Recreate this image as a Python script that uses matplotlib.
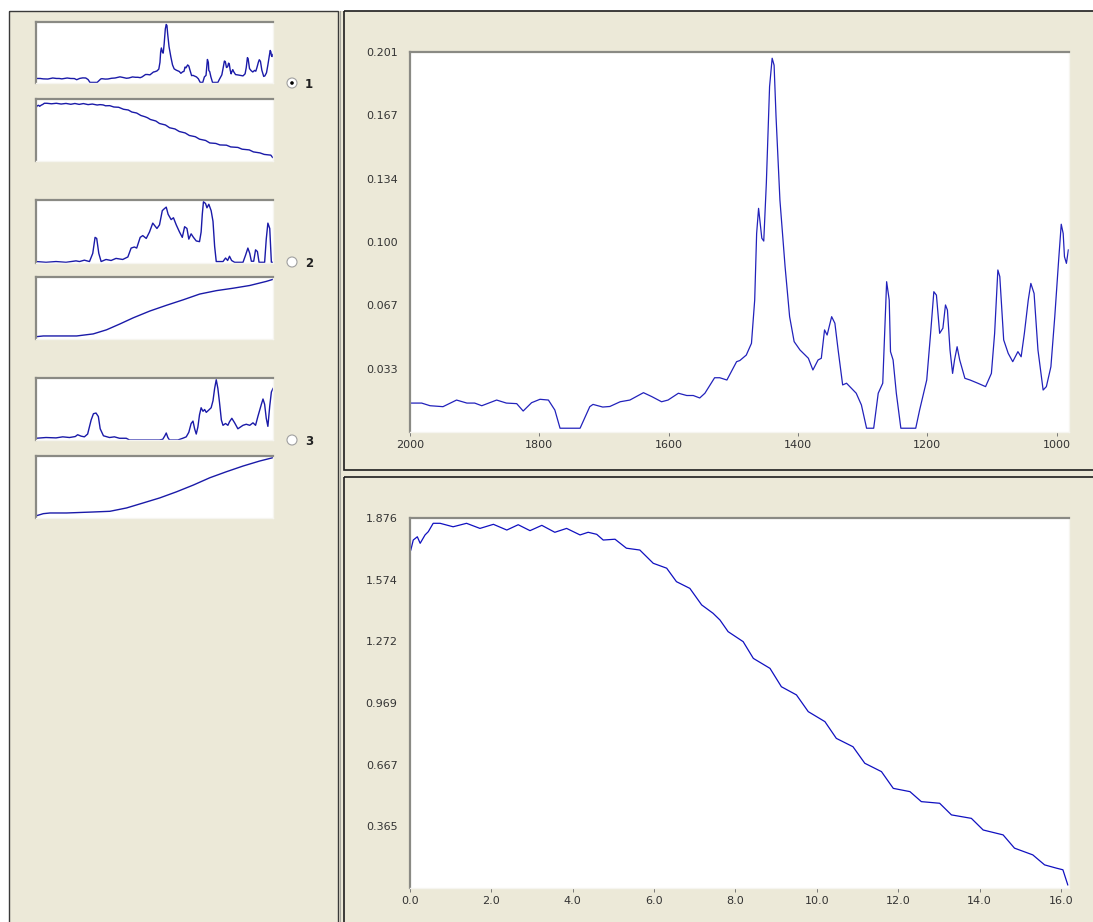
import matplotlib
matplotlib.use("Agg")
import matplotlib.pyplot as plt
from matplotlib.patches import Rectangle, Circle

# --- spectrum of component 1 (wavenumber, absorbance) ---
spec_wn = [2000, 1982, 1969, 1949, 1928, 1912, 1900, 1889, 1866, 1851, 1835, 1825,
           1812, 1799, 1786, 1776, 1768, 1737, 1722, 1717, 1702, 1691, 1675, 1660,
           1639, 1626, 1611, 1601, 1585, 1572, 1562, 1552, 1544, 1529, 1521, 1510,
           1495, 1490, 1480, 1472, 1467, 1464, 1461, 1456, 1453, 1449, 1444, 1440,
           1437, 1434, 1428, 1420, 1413, 1406, 1397, 1384, 1377, 1369, 1364, 1359,
           1355, 1348, 1343, 1338, 1331, 1325, 1310, 1302, 1294, 1283, 1276, 1269,
           1263, 1259, 1257, 1253, 1248, 1241, 1218, 1212, 1201, 1195, 1190, 1186,
           1181, 1176, 1172, 1169, 1165, 1161, 1158, 1154, 1150, 1142, 1134, 1122,
           1110, 1101, 1096, 1091, 1088, 1082, 1075, 1068, 1060, 1055, 1050, 1044,
           1040, 1035, 1029, 1021, 1016, 1009, 1003, 997, 993, 990, 988, 985, 982]
spec_abs = [0.0153, 0.0153, 0.0139, 0.0134, 0.0169, 0.0153, 0.0153, 0.0139, 0.0169,
            0.0153, 0.0150, 0.0111, 0.0155, 0.0173, 0.0169, 0.0116, 0.0020, 0.0020,
            0.0134, 0.0146, 0.0132, 0.0135, 0.0160, 0.0169, 0.0208, 0.0187, 0.0160,
            0.0169, 0.0205, 0.0193, 0.0193, 0.0180, 0.0205, 0.0287, 0.0287, 0.0275,
            0.0372, 0.0378, 0.0407, 0.0469, 0.0698, 0.1050, 0.1183, 0.1025, 0.1010,
            0.1316, 0.1827, 0.1977, 0.1940, 0.1668, 0.1227, 0.0874, 0.0610, 0.0478,
            0.0434, 0.0390, 0.0328, 0.0381, 0.0390, 0.0540, 0.0513, 0.0610, 0.0575,
            0.0434, 0.0249, 0.0258, 0.0205, 0.0143, 0.0020, 0.0020, 0.0205, 0.0258,
            0.0795, 0.0698, 0.0425, 0.0381, 0.0205, 0.0020, 0.0020, 0.0116, 0.0275,
            0.0522, 0.0742, 0.0724, 0.0522, 0.0549, 0.0672, 0.0645, 0.0434, 0.0310,
            0.0381, 0.0451, 0.0381, 0.0284, 0.0275, 0.0258, 0.0240, 0.0310, 0.0522,
            0.0857, 0.0822, 0.0487, 0.0416, 0.0372, 0.0425, 0.0398, 0.0522, 0.0698,
            0.0786, 0.0733, 0.0434, 0.0222, 0.0240, 0.0345, 0.0610, 0.0910, 0.1099,
            0.1050, 0.0927, 0.0892, 0.0963]

# --- concentration profile of component 1 ---
time = [0.02, 0.08, 0.18, 0.25, 0.37, 0.45, 0.57, 0.74, 1.06, 1.39, 1.72, 2.05,
        2.38, 2.66, 2.95, 3.24, 3.56, 3.85, 4.18, 4.38, 4.59, 4.75, 5.04, 5.32,
        5.65, 5.98, 6.31, 6.55, 6.88, 7.17, 7.45, 7.62, 7.82, 8.19, 8.44, 8.85,
        9.13, 9.50, 9.79, 10.20, 10.48, 10.89, 11.18, 11.59, 11.88, 12.29, 12.57,
        13.02, 13.31, 13.80, 14.09, 14.58, 14.86, 15.31, 15.60, 15.89, 16.05, 16.17]
conc = [1.719, 1.768, 1.784, 1.752, 1.793, 1.809, 1.850, 1.850, 1.833, 1.850,
        1.825, 1.845, 1.817, 1.843, 1.814, 1.840, 1.806, 1.825, 1.793, 1.806,
        1.796, 1.768, 1.772, 1.728, 1.719, 1.654, 1.630, 1.564, 1.531, 1.450,
        1.409, 1.376, 1.319, 1.270, 1.188, 1.139, 1.049, 1.009, 0.927, 0.878,
        0.796, 0.755, 0.674, 0.633, 0.551, 0.535, 0.486, 0.478, 0.421, 0.404,
        0.347, 0.323, 0.258, 0.225, 0.176, 0.160, 0.152, 0.078]

# --- thumbnails of components 2 and 3 (relative heights) ---
spec2_wn = [2000, 1957, 1914, 1871, 1828, 1813, 1792, 1770, 1756, 1746, 1739, 1730,
            1720, 1699, 1677, 1656, 1627, 1605, 1591, 1577, 1567, 1552, 1541, 1526,
            1512, 1498, 1480, 1469, 1457, 1449, 1440, 1432, 1419, 1409, 1397, 1383,
            1371, 1361, 1351, 1343, 1333, 1323, 1311, 1297, 1290, 1285, 1280, 1271,
            1265, 1257, 1247, 1239, 1232, 1225, 1196, 1185, 1176, 1168, 1159, 1146,
            1110, 1099, 1089, 1081, 1074, 1064, 1056, 1048, 1041, 1017, 1010, 1003,
            995, 988, 981]
spec2_rel = [0.023, 0.011, 0.023, 0.011, 0.034, 0.023, 0.045, 0.023, 0.153, 0.407,
             0.390, 0.153, 0.023, 0.056, 0.040, 0.073, 0.056, 0.096, 0.237, 0.254,
             0.237, 0.407, 0.435, 0.390, 0.492, 0.633, 0.548, 0.605, 0.831, 0.859,
             0.887, 0.774, 0.689, 0.718, 0.605, 0.492, 0.407, 0.576, 0.548, 0.379,
             0.463, 0.407, 0.350, 0.339, 0.492, 0.774, 0.972, 0.944, 0.876, 0.932,
             0.831, 0.661, 0.266, 0.023, 0.023, 0.079, 0.040, 0.107, 0.040, 0.011,
             0.011, 0.124, 0.237, 0.153, 0.028, 0.028, 0.209, 0.181, 0.011, 0.011,
             0.379, 0.633, 0.548, 0.011, 0.011]
spec3_wn = [2000, 1957, 1914, 1885, 1856, 1831, 1821, 1806, 1792, 1778, 1763, 1753,
            1742, 1732, 1724, 1710, 1684, 1663, 1641, 1612, 1598, 1469, 1455, 1446,
            1440, 1433, 1426, 1390, 1369, 1354, 1343, 1333, 1325, 1318, 1311, 1304,
            1297, 1290, 1282, 1275, 1268, 1258, 1247, 1239, 1232, 1225, 1218, 1211,
            1203, 1196, 1185, 1175, 1168, 1158, 1146, 1132, 1110, 1096, 1081, 1067,
            1056, 1046, 1031, 1024, 1017, 1010, 1003, 995, 988, 981]
spec3_rel = [0.028, 0.040, 0.034, 0.051, 0.040, 0.056, 0.085, 0.062, 0.051, 0.096,
             0.322, 0.424, 0.435, 0.379, 0.181, 0.068, 0.040, 0.051, 0.028, 0.028,
             0.0, 0.0, 0.011, 0.068, 0.113, 0.040, 0.0, 0.0, 0.028, 0.051, 0.124,
             0.266, 0.305, 0.181, 0.096, 0.209, 0.407, 0.520, 0.463, 0.492, 0.446,
             0.480, 0.520, 0.633, 0.831, 0.972, 0.831, 0.605, 0.322, 0.237, 0.266,
             0.237, 0.294, 0.350, 0.277, 0.181, 0.237, 0.254, 0.237, 0.277, 0.237,
             0.379, 0.576, 0.661, 0.576, 0.350, 0.220, 0.548, 0.774, 0.831]
conc2_t = [0.05, 0.50, 2.78, 3.91, 4.82, 5.73, 6.64, 7.78, 8.92, 10.06, 11.19,
           12.33, 13.47, 14.61, 15.74, 16.2]
conc2_rel = [0.038, 0.049, 0.049, 0.082, 0.148, 0.242, 0.341, 0.451, 0.544, 0.632,
             0.725, 0.780, 0.819, 0.863, 0.929, 0.962]
conc3_t = [0.05, 0.50, 0.96, 2.09, 3.91, 5.05, 6.19, 7.33, 8.46, 9.60, 10.74,
           11.88, 13.01, 14.15, 15.29, 16.2]
conc3_rel = [0.038, 0.070, 0.081, 0.081, 0.097, 0.108, 0.162, 0.243, 0.324, 0.422,
             0.530, 0.649, 0.746, 0.838, 0.919, 0.973]

spec_ticks = [2000, 1800, 1600, 1400, 1200, 1000]
spec_yt = [0.0335, 0.067, 0.1005, 0.134, 0.1675, 0.201]
spec_ylab = ['0.033', '0.067', '0.100', '0.134', '0.167', '0.201']
time_ticks = [0, 2, 4, 6, 8, 10, 12, 14, 16]
conc_yt = [0.0627 + 0.3022 * k for k in range(1, 7)]
conc_ylab = ['0.365', '0.667', '0.969', '1.272', '1.574', '1.876']

W, H = 1093, 922
BEIGE = '#ECE9D8'
BLUE = '#2222bb'

fig = plt.figure(figsize=(W / 100, H / 100), dpi=100, facecolor='white')

# background drawn in pixel coordinates
bg = fig.add_axes([0, 0, 1, 1])
bg.set_xlim(0, W)
bg.set_ylim(H, 0)
bg.axis('off')
bg.add_patch(Rectangle((9, 11), W, H, facecolor=BEIGE, edgecolor='none'))
bg.add_patch(Rectangle((9, 11), 329, H, fill=False, edgecolor='#3a3a3a', lw=1.0))
bg.plot([340, 340], [11, H], color='#a8a8a0', lw=0.8)
bg.add_patch(Rectangle((344, 11), W, 459, fill=False, edgecolor='#1e1e1e', lw=1.2))
bg.add_patch(Rectangle((344, 477), W, H, fill=False, edgecolor='#1e1e1e', lw=1.2))


def px_axes(left, top, right, bottom):
    a = fig.add_axes([left / W, 1 - bottom / H, (right - left) / W, (bottom - top) / H])
    a.set_facecolor('white')
    for s in ['top', 'left']:
        a.spines[s].set_color('#8a8a84')
        a.spines[s].set_linewidth(1.6)
    for s in ['bottom', 'right']:
        a.spines[s].set_color('#f6f5f0')
        a.spines[s].set_linewidth(1.0)
    return a


# thumbnails
thumbs = [
    (22, 83, spec_wn, spec_abs, (2000, 981), (0, 0.206)),
    (99, 161, time, conc, (0, 16.2), (-0.04, 1.99)),
    (200, 263, spec2_wn, spec2_rel, (2000, 981), (0, 1)),
    (277, 339, conc2_t, conc2_rel, (0, 16.2), (0, 1)),
    (378, 440, spec3_wn, spec3_rel, (2000, 981), (0, 1)),
    (456, 518, conc3_t, conc3_rel, (0, 16.2), (0, 1)),
]
for top, bot, xs, ys, xl, yl in thumbs:
    a = px_axes(36, top, 273, bot)
    a.plot(xs, ys, color='#1a1aa8', lw=1.0)
    a.set_xlim(*xl)
    a.set_ylim(*yl)
    a.set_xticks([])
    a.set_yticks([])

# radio buttons
for i, yc in enumerate([83, 262, 440]):
    bg.add_patch(Circle((292, yc), 5, facecolor='white', edgecolor='#a0a0a0', lw=0.8))
    if i == 0:
        bg.add_patch(Circle((292, yc), 1.8, facecolor='black', edgecolor='none'))
    bg.text(305, yc + 1, str(i + 1), fontsize=8.5, fontweight='bold', color='#222222',
            va='center', ha='left')

# main spectrum
ax1 = px_axes(410, 52, 1069, 432)
ax1.plot(spec_wn, spec_abs, color=BLUE, lw=0.9)
ax1.set_xlim(2000, 981)
ax1.set_ylim(0, 0.201)
ax1.set_xticks(spec_ticks)
ax1.set_xticklabels([str(t) for t in spec_ticks])
ax1.set_yticks(spec_yt)
ax1.set_yticklabels(spec_ylab)

# main concentration profile
ax2 = px_axes(410, 518, 1069, 888)
ax2.plot(time, conc, color='#1010c0', lw=0.9)
ax2.set_xlim(0, 16.2)
ax2.set_ylim(0.0627, 1.876)
ax2.set_xticks(time_ticks)
ax2.set_xticklabels(['%.1f' % t for t in time_ticks])
ax2.set_yticks(conc_yt)
ax2.set_yticklabels(conc_ylab)

for a in (ax1, ax2):
    a.tick_params(axis='y', length=0, pad=9, labelsize=8, labelcolor='#333333')
    a.tick_params(axis='x', length=3, width=0.6, color='#666666', direction='out',
                  pad=3, labelsize=8, labelcolor='#333333')

fig.savefig('out.png', dpi=100, facecolor='white')
